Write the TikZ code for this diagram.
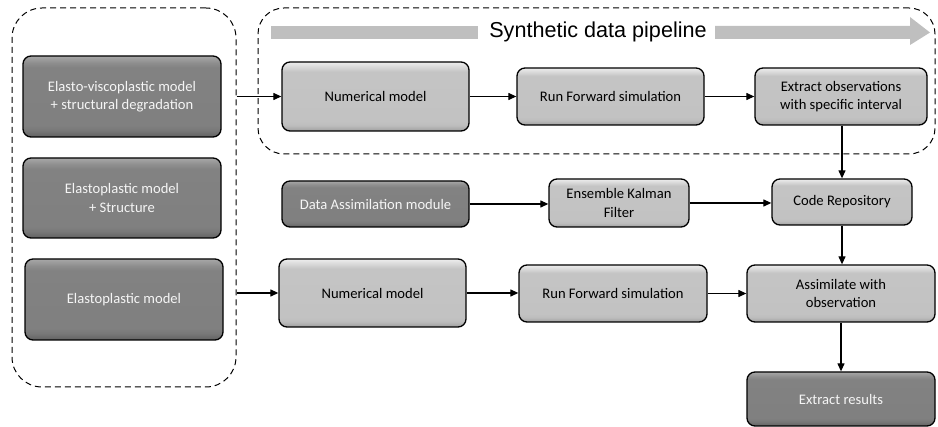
\documentclass[tikz,border=0pt]{standalone}
\usepackage{fontspec}
\setmainfont{Carlito}
\newfontfamily\titlefont{Liberation Sans}
\usetikzlibrary{arrows.meta}

\definecolor{bargray}{RGB}{191,191,191}
\definecolor{darktext}{RGB}{245,245,245}

% bevelled fills: narrow highlight along the top, narrow shadow along the bottom
% (TikZ fits the middle 50bp of a shading to the path)
\pgfdeclareverticalshading{lightbevel}{100bp}{%
  rgb(0bp)=(0.62,0.62,0.62); rgb(25bp)=(0.62,0.62,0.62);
  rgb(29bp)=(0.74,0.74,0.74); rgb(32bp)=(0.76,0.76,0.76);
  rgb(68bp)=(0.77,0.77,0.77); rgb(71bp)=(0.84,0.84,0.84);
  rgb(75bp)=(0.93,0.93,0.93); rgb(100bp)=(0.93,0.93,0.93)}
\pgfdeclareverticalshading{darkbevel}{100bp}{%
  rgb(0bp)=(0.38,0.38,0.38); rgb(25bp)=(0.38,0.38,0.38);
  rgb(29bp)=(0.47,0.47,0.47); rgb(32bp)=(0.50,0.50,0.50);
  rgb(68bp)=(0.51,0.51,0.51); rgb(71bp)=(0.56,0.56,0.56);
  rgb(75bp)=(0.66,0.66,0.66); rgb(100bp)=(0.66,0.66,0.66)}

\newcommand\boxtextsize{\fontsize{14.6}{18.5}\selectfont}

\tikzset{
  procbox/.style={draw=black, line width=1.3pt, rounded corners=8pt,
    align=center, inner sep=2pt, font=\boxtextsize},
  lightbox/.style={procbox, shading=lightbevel, text=black},
  darkbox/.style={procbox, shading=darkbevel, text=darktext},
  groupbox/.style={draw=black, line width=1pt, dash pattern=on 6pt off 4pt},
  flow/.style={line width=1.2pt, -{Triangle[length=8pt,width=7pt]}},
}

\begin{document}
\begin{tikzpicture}[x=1pt,y=-1pt]
\useasboundingbox (0,0) rectangle (938,427);

% dashed groups
\node[groupbox, rounded corners=30pt, minimum width=224pt, minimum height=379pt]
  (models) at (124,197.5) {};
\node[groupbox, rounded corners=26pt, minimum width=677pt, minimum height=146pt]
  (pipeline) at (596.5,81) {};

% pipeline banner
\node[font=\titlefont\fontsize{21.6}{24}\selectfont, inner sep=0pt] (title) at (598,32) {Synthetic data pipeline};
\fill[bargray] (271,26) rectangle (478,39);
\fill[bargray] (715,26) -- (910,26) -- (910,17) -- (930,32.5) -- (910,45) -- (910,39) -- (715,39) -- cycle;

% constitutive models
\node[darkbox, minimum width=198pt, minimum height=81pt] (evp) at (122,96.5)
  {Elasto-viscoplastic model\\+ structural degradation};
\node[darkbox, minimum width=198pt, minimum height=80pt] (eps) at (122,198)
  {Elastoplastic model\\+ Structure};
\node[darkbox, minimum width=198pt, minimum height=81pt] (ep) at (124,299.5)
  {Elastoplastic model};

% synthetic data row
\node[lightbox, minimum width=187pt, minimum height=69pt] (num1) at (375.5,96.5) {Numerical model};
\node[lightbox, minimum width=187pt, minimum height=57pt] (run1) at (610.5,96.5) {Run Forward simulation};
\node[lightbox, minimum width=172pt, minimum height=57pt] (obs) at (841,96.5) {Extract observations\\with specific interval};

% assimilation row
\node[darkbox, minimum width=187pt, minimum height=46pt] (dam) at (375.5,204) {Data Assimilation module};
\node[lightbox, minimum width=140pt, minimum height=48pt] (enkf) at (619,203) {Ensemble Kalman\\Filter};
\node[lightbox, minimum width=140pt, minimum height=46pt] (repo) at (842,202) {Code Repository};

% model run row
\node[lightbox, minimum width=187pt, minimum height=68pt] (num2) at (372.5,293) {Numerical model};
\node[lightbox, minimum width=188pt, minimum height=57pt] (run2) at (613,293.5) {Run Forward simulation};
\node[lightbox, minimum width=188pt, minimum height=57pt] (assim) at (841,293.5) {Assimilate with\\observation};
\node[darkbox, minimum width=188pt, minimum height=54pt] (res) at (841,399) {Extract results};

% connectors
\draw[flow] (models.east |- num1.west) -- (num1.west);
\draw[flow] (num1.east) -- (num1.east -| run1.west);
\draw[flow] (run1.east) -- (run1.east -| obs.west);
\draw[flow] (obs.south -| repo.north) -- (repo.north);
\draw[flow] (dam.east) -- (dam.east -| enkf.west);
\draw[flow] (enkf.east) -- (enkf.east -| repo.west);
\draw[flow] (repo.south) -- (repo.south |- assim.north);
\draw[flow] (models.east |- num2.west) -- (num2.west);
\draw[flow] (num2.east) -- (num2.east -| run2.west);
\draw[flow] (run2.east) -- (run2.east -| assim.west);
\draw[flow] (assim.south) -- (assim.south |- res.north);
\end{tikzpicture}
\end{document}
